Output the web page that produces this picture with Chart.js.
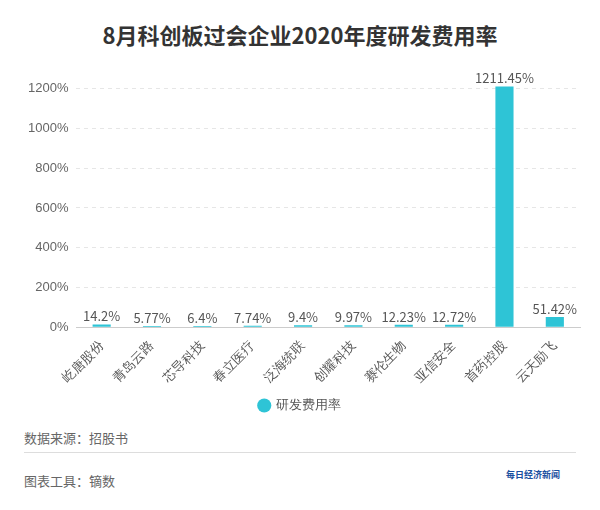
<!DOCTYPE html>
<html>
<head>
<meta charset="utf-8">
<script src="https://cdn.jsdelivr.net/npm/chart.js@4/dist/chart.umd.min.js"></script>
<style>
  body { margin: 0; background: #fff; font-family: "Noto Sans CJK SC", "Noto Sans", sans-serif; }
  #wrap { position: relative; width: 600px; height: 510px; }
  #title { position: absolute; top: 18px; width: 600px; text-align: center; font-size: 22px; font-weight: bold; color: #333; }
  #box { position: absolute; left: 20px; top: 53px; width: 570px; height: 369px; }
  .note { position: absolute; left: 24px; font-size: 13px; color: #666; }
  #line { position: absolute; left: 24px; top: 452px; width: 552px; border-top: 1px solid #ddd; }
  #logo { position: absolute; right: 40px; top: 468px; font-size: 9px; color: #1a4fa0; font-weight: bold; }
</style>
</head>
<body>
<div id="wrap">
  <div id="title">8月科创板过会企业2020年度研发费用率</div>
  <div id="box"><canvas id="chart"></canvas></div>
  <div class="note" style="top:428px">数据来源：招股书</div>
  <div id="line"></div>
  <div class="note" style="top:471px">图表工具：镝数</div>
  <div id="logo">每日经济新闻</div>
</div>
<script>
const companies = ['屹唐股份', '青岛云路', '芯导科技', '春立医疗', '泛海统联', '创耀科技', '赛伦生物', '亚信安全', '首药控股', '云天励飞'];
const rates = [14.2, 5.77, 6.4, 7.74, 9.4, 9.97, 12.23, 12.72, 1211.45, 51.42];
const seriesName = '研发费用率';

// Werte über den Balken schreiben
const labelPlugin = {
    id: 'valueLabels',
    afterDatasetsDraw(chart) {
        const ctx = chart.ctx;
        const meta = chart.getDatasetMeta(0);
        ctx.save();
        ctx.font = '13px "Noto Sans CJK SC", sans-serif';
        ctx.fillStyle = '#555';
        ctx.textAlign = 'center';
        meta.data.forEach((bar, i) => {
            ctx.fillText(rates[i] + '%', bar.x, bar.y - 8);
        });
        ctx.restore();
    }
};

new Chart(document.getElementById('chart'), {
    type: 'bar',
    data: {
        labels: companies,
        datasets: [{
            label: seriesName,
            data: rates,
            backgroundColor: '#2ec4d6',
            barPercentage: 0.36,
            categoryPercentage: 1
        }]
    },
    options: {
        responsive: true,
        maintainAspectRatio: false,
        animation: false,
        layout: { padding: { top: 0, right: 10 } },
        scales: {
            y: {
                min: 0,
                max: 1300,
                border: { display: false, dash: [4, 4] },
                grid: { color: '#e6e6e6', drawTicks: false },
                ticks: {
                    stepSize: 200,
                    padding: 8,
                    color: '#666',
                    font: { size: 13 },
                    callback: v => (v % 200 === 0 ? v + '%' : null)
                }
            },
            x: {
                grid: { display: false },
                border: { color: '#ccc' },
                ticks: { color: '#555', font: { size: 13 }, maxRotation: 45, minRotation: 45 }
            }
        },
        plugins: {
            legend: {
                position: 'bottom',
                labels: { usePointStyle: true, pointStyle: 'circle', boxWidth: 10, boxHeight: 10, color: '#555', font: { size: 13 } }
            },
            tooltip: { enabled: false }
        }
    },
    plugins: [labelPlugin]
});
</script>
</body>
</html>
